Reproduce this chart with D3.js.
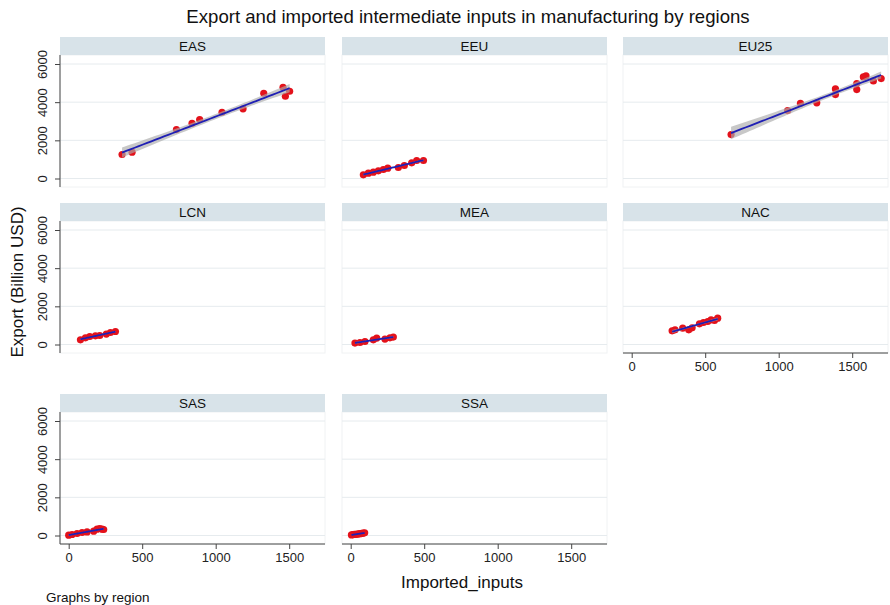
<!DOCTYPE html>
<html>
<head>
<meta charset="utf-8">
<script src="https://cdn.jsdelivr.net/npm/d3@7"></script>
<style>
  body { margin: 0; background: #fff; }
  svg { font-family: "Liberation Sans", Arial, sans-serif; }
</style>
</head>
<body>
<div id="chart"></div>
<script>
// Values (Billion USD)
const regions = ["EAS", "EEU", "EU25", "LCN", "MEA", "NAC", "SAS", "SSA"];

const importedEAS = [363, 431, 733, 839, 891, 1043, 1186, 1327, 1458, 1474, 1503];
const exportEAS   = [1257, 1377, 2565, 2895, 3089, 3471, 3649, 4466, 4780, 4309, 4571];

const importedEEU = [86, 120, 154, 188, 222, 252, 324, 365, 415, 449, 495];
const exportEEU   = [194, 277, 330, 403, 471, 539, 576, 681, 822, 942, 942];

const importedEU25 = [676, 1061, 1148, 1259, 1386, 1386, 1531, 1531, 1576, 1594, 1644, 1697];
const exportEU25   = [2304, 3560, 3944, 3963, 4695, 4398, 4974, 4660, 5323, 5375, 5113, 5236];

const importedLCN = [80, 114, 143, 182, 211, 256, 284, 318];
const exportLCN   = [246, 351, 419, 455, 471, 545, 628, 680];

const importedMEA = [29, 63, 97, 154, 177, 233, 267, 290];
const exportMEA   = [73, 105, 157, 246, 335, 283, 351, 387];

const importedNAC = [275, 295, 347, 388, 411, 461, 488, 517, 540, 563, 585];
const exportNAC   = [717, 770, 858, 770, 874, 1084, 1152, 1204, 1293, 1257, 1382];

const importedSAS = [0, 23, 57, 91, 125, 170, 193, 211, 227, 238];
const exportSAS   = [16, 52, 105, 157, 188, 225, 330, 367, 330, 314];

const importedSSA = [5, 15, 25, 35, 45, 55, 65, 75, 85, 95];
const exportSSA   = [30, 45, 55, 60, 70, 80, 95, 110, 130, 140];

const xTicks = [0, 500, 1000, 1500];
const yTicks = [0, 2000, 4000, 6000];

const series = {
    EAS: [importedEAS, exportEAS],
    EEU: [importedEEU, exportEEU],
    EU25: [importedEU25, exportEU25],
    LCN: [importedLCN, exportLCN],
    MEA: [importedMEA, exportMEA],
    NAC: [importedNAC, exportNAC],
    SAS: [importedSAS, exportSAS],
    SSA: [importedSSA, exportSSA]
};

const w = 890, h = 605;
const colLeft = [60, 342, 623];
const rowTop = [37, 203, 394];
const panelW = 265;
const stripH = 18;
const panelH = 150;

const svg = d3.select("#chart").append("svg")
    .attr("width", w)
    .attr("height", h);

// Title
svg.append("text")
    .attr("x", 468)
    .attr("y", 23)
    .attr("text-anchor", "middle")
    .attr("font-size", 18.6)
    .attr("fill", "#111")
    .text("Export and imported intermediate inputs in manufacturing by regions");

// Y axis title
svg.append("text")
    .attr("transform", "translate(23,282) rotate(-90)")
    .attr("text-anchor", "middle")
    .attr("font-size", 17)
    .attr("fill", "#111")
    .text("Export (Billion USD)");

// X axis title
svg.append("text")
    .attr("x", 462)
    .attr("y", 588)
    .attr("text-anchor", "middle")
    .attr("font-size", 17)
    .attr("fill", "#111")
    .text("Imported_inputs");

// note
svg.append("text")
    .attr("x", 46)
    .attr("y", 602)
    .attr("font-size", 13.5)
    .attr("fill", "#111")
    .text("Graphs by region");

// simple OLS with confidence band for mean
function linFit(xs, ys) {
    const n = xs.length;
    const mx = d3.mean(xs), my = d3.mean(ys);
    let sxx = 0, sxy = 0;
    xs.forEach((x, i) => { sxx += (x - mx) ** 2; sxy += (x - mx) * (ys[i] - my); });
    const b = sxy / sxx, a = my - b * mx;
    let sse = 0;
    xs.forEach((x, i) => { sse += (ys[i] - a - b * x) ** 2; });
    const s = Math.sqrt(sse / (n - 2));
    const t = 2.2;
    return {
        pred: (x) => a + b * x,
        half: (x) => t * s * Math.sqrt(1 / n + (x - mx) ** 2 / sxx)
    };
}

regions.forEach((region, idx) => {
    const col = idx % 3, row = Math.floor(idx / 3);
    const left = colLeft[col], top = rowTop[row];
    const [xs, ys] = series[region];

    const x = d3.scaleLinear().domain([0, 1500]).range([left + 8.7, left + 8.7 + 220.5]);
    const y = d3.scaleLinear().domain([0, 6000]).range([top + 141.5, top + 27]);

    const g = svg.append("g");

    // plot region
    g.append("rect")
        .attr("x", left).attr("y", top + stripH)
        .attr("width", panelW).attr("height", panelH - stripH)
        .attr("fill", "#fff")
        .attr("stroke", "#f0f2f3");

    // strip
    g.append("rect")
        .attr("x", left).attr("y", top)
        .attr("width", panelW).attr("height", stripH)
        .attr("fill", "#d8e3e9");
    g.append("text")
        .attr("x", left + panelW / 2)
        .attr("y", top + 13.5)
        .attr("text-anchor", "middle")
        .attr("font-size", 13.5)
        .attr("fill", "#111")
        .text(region);

    // gridlines
    g.selectAll(".grid")
        .data(yTicks)
        .enter()
        .append("line")
        .attr("x1", left).attr("x2", left + panelW)
        .attr("y1", (d) => y(d)).attr("y2", (d) => y(d))
        .attr("stroke", "#e6ebee")
        .attr("stroke-width", 1);

    // y axis on first column
    if (col === 0) {
        const yAxis = d3.axisLeft(y).tickValues(yTicks).tickFormat(d3.format("d")).tickSize(5);
        const ya = g.append("g")
            .attr("transform", `translate(${left},0)`)
            .call(yAxis);
        ya.select(".domain").attr("d", `M0,${top + stripH}V${top + panelH}`).attr("stroke", "#444");
        ya.selectAll(".tick line").attr("stroke", "#444");
        ya.selectAll(".tick text")
            .attr("font-size", 13)
            .attr("fill", "#222")
            .attr("font-family", "Liberation Sans, Arial, sans-serif")
            .attr("text-anchor", "middle")
            .attr("x", null).attr("dy", null)
            .attr("transform", "translate(-16,0) rotate(-90)")
            .attr("dominant-baseline", "middle");
    }

    // x axis on the bottom panel of each column
    if (row === 2 || (row === 1 && col === 2)) {
        const xAxis = d3.axisBottom(x).tickValues(xTicks).tickFormat(d3.format("d")).tickSize(5).tickPadding(4);
        const xa = g.append("g")
            .attr("transform", `translate(0,${top + panelH})`)
            .call(xAxis);
        xa.select(".domain").attr("d", `M${left},0H${left + panelW}`).attr("stroke", "#444");
        xa.selectAll(".tick line").attr("stroke", "#444");
        xa.selectAll(".tick text")
            .attr("font-size", 13)
            .attr("fill", "#222")
            .attr("font-family", "Liberation Sans, Arial, sans-serif");
    }

    // scatter points
    g.selectAll(".pt")
        .data(xs.map((v, i) => [v, ys[i]]))
        .enter()
        .append("circle")
        .attr("cx", (d) => x(d[0]))
        .attr("cy", (d) => y(d[1]))
        .attr("r", 3.6)
        .attr("fill", "#e3121b");

    // fit with confidence interval
    const fit = linFit(xs, ys);
    const grid = d3.range(0, 41).map((i) => d3.min(xs) + (d3.max(xs) - d3.min(xs)) * i / 40);

    g.append("path")
        .datum(grid)
        .attr("d", d3.area()
            .x((d) => x(d))
            .y0((d) => y(fit.pred(d) - fit.half(d)))
            .y1((d) => y(fit.pred(d) + fit.half(d))))
        .attr("fill", "#aaaaaa")
        .attr("fill-opacity", 0.65);

    g.append("path")
        .datum(grid)
        .attr("d", d3.line().x((d) => x(d)).y((d) => y(fit.pred(d))))
        .attr("fill", "none")
        .attr("stroke", "#1f1fb4")
        .attr("stroke-width", 1.8);
});
</script>
</body>
</html>
